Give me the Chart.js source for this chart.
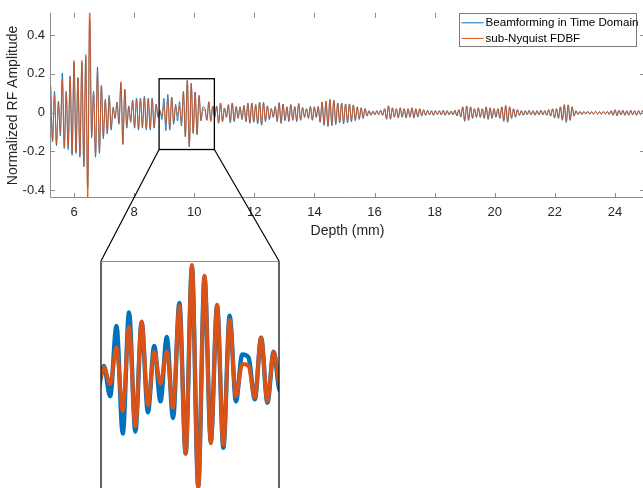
<!DOCTYPE html>
<html lang="en">
<head>
  <meta charset="UTF-8">
  <title>RF line: time-domain beamforming vs sub-Nyquist FDBF</title>
  <script src="https://cdn.jsdelivr.net/npm/chart.js"></script>
  <style>
    html, body { margin: 0; padding: 0; background: #fff; overflow: hidden; }
    #wrap { position: relative; width: 643px; height: 488px; overflow: hidden; }
    #mainChart { position: absolute; left: 0; top: 0; }
    #insetChart { position: absolute; left: 100px; top: 260px; }
  </style>
</head>
<body>
<div id="wrap">
  <canvas id="mainChart" width="650" height="488"></canvas>
  <canvas id="insetChart" width="180" height="236"></canvas>
</div>
<script>
  // sample grid of the RF line (mm)
  const depthStart = 5.22;
  const depthStep = 0.065;

  const seriesLabels = ['Beamforming in Time Domain', 'sub-Nyquist FDBF'];
  const xTicks = [6, 8, 10, 12, 14, 16, 18, 20, 22, 24];
  const yTicks = [-0.4, -0.2, 0, 0.2, 0.4];
  const depthRange = [5.2, 25];
  const ampRange = [-0.44, 0.515];
  // region that is blown up in the inset
  const zoomDepth = [8.83, 10.67];
  const zoomAmp = [-0.19, 0.175];

  // sub-Nyquist FDBF (orange)
  const fdbfNear = [
    0.14, -0.14, 0.09, -0.16, 0.05, -0.10, 0.17, -0.18, 0.10, -0.17,
    0.18, -0.21, 0.27, -0.20, 0.18, -0.22, 0.27, -0.27, 0.30, -0.47,
    0.58, -0.12, 0.10, -0.22, 0.21, -0.20, 0.14, -0.12, 0.06, -0.10,
    0.08, -0.08, 0.02, -0.02, 0.05, -0.05, 0.16, -0.165, 0.12, -0.07,
    0.03, -0.04, 0.06, -0.07, 0.07, -0.08, 0.07, -0.07, 0.08, -0.08,
    0.07, -0.08, 0.07, -0.07, 0.04, -0.02
  ];
  const fdbfZoom = [
    0.010, -0.016, 0.041, -0.058, 0.073, -0.082, 0.081, -0.049, 0.034, -0.016,
    0.034, -0.053, 0.105, -0.124, 0.169, -0.177, 0.152, -0.108, 0.107, -0.111,
    0.084, -0.035, 0.015, 0.012, -0.037, 0.056, -0.043, 0.034, -0.016
  ];
  const fdbfMid = [
    0.03, -0.05, 0.05, -0.04, 0.02, -0.02, 0.04, -0.045, 0.05, -0.04,
    0.03, -0.025, 0.03, -0.03, 0.035, -0.04, 0.045, -0.05, 0.05, -0.045,
    0.04, -0.05, 0.055, -0.06, 0.05, -0.04, 0.035, -0.03, 0.02, -0.02,
    0.03, -0.04, 0.05, -0.05, 0.045, -0.035, 0.03, -0.04, 0.04, -0.035,
    0.03, -0.04, 0.045, -0.035, 0.025, -0.02, 0.02, -0.025, 0.03, -0.035,
    0.03, -0.02, 0.03, -0.045, 0.055, -0.06, 0.06, -0.068, 0.07, -0.06,
    0.065, -0.055, 0.05, -0.045, 0.05, -0.05, 0.045, -0.045, 0.045, -0.04,
    0.04, -0.035, 0.03, -0.03, 0.025, -0.025, 0.02, -0.015, 0.01, -0.012,
    0.008, -0.01, 0.01, -0.008, 0.012, -0.012, 0.02, -0.03, 0.035, -0.03,
    0.025, -0.02, 0.02, -0.025, 0.025, -0.02, 0.02, -0.025, 0.02, -0.02,
    0.025, -0.025, 0.02, -0.02, 0.02, -0.015, 0.015, -0.012, 0.012, -0.01,
    0.01, -0.012, 0.01, -0.008, 0.01, -0.01, 0.012, -0.012, 0.01, -0.01,
    0.008, -0.01, 0.012, -0.015, 0.015, -0.02
  ];
  const fdbfFar = [
    0.03, -0.04, 0.035, -0.035, 0.03, -0.025, 0.02, -0.02, 0.025, -0.02,
    0.02, -0.025, 0.03, -0.03, 0.025, -0.025, 0.02, -0.02, 0.02, -0.025,
    0.03, -0.04, 0.037, -0.045, 0.03, -0.025, 0.02, -0.02, 0.015, -0.012,
    0.01, -0.012, 0.01, -0.01, 0.012, -0.01, 0.01, -0.012, 0.01, -0.01,
    0.012, -0.01, 0.01, -0.012, 0.015, -0.015, 0.02, -0.025, 0.02, -0.025,
    0.03, -0.035, 0.042, -0.045, 0.04, -0.035, 0.03, -0.015, 0.01, -0.008,
    0.006, -0.008, 0.006, -0.005, 0.006, -0.006, 0.005, -0.006, 0.007, -0.006,
    0.005, -0.006, 0.006, -0.005, 0.006, -0.008, 0.01, -0.012, 0.015, -0.014,
    0.012, -0.01, 0.012, -0.012, 0.01, -0.012, 0.012, -0.01, 0.01, -0.012,
    0.01, -0.008, 0.01, -0.01
  ];

  // beamforming in time domain (blue)
  const timeNear = [
    0.14, -0.15, 0.11, -0.17, 0.06, -0.12, 0.205, -0.185, 0.11, -0.19,
    0.19, -0.22, 0.26, -0.21, 0.18, -0.23, 0.26, -0.28, 0.29, -0.385,
    0.48, -0.13, 0.11, -0.23, 0.235, -0.21, 0.14, -0.135, 0.07, -0.11,
    0.09, -0.09, 0.03, -0.03, 0.055, -0.06, 0.15, -0.16, 0.12, -0.08,
    0.035, -0.05, 0.065, -0.08, 0.075, -0.09, 0.075, -0.08, 0.085, -0.09,
    0.075, -0.09, 0.075, -0.08, 0.045, -0.025
  ];
  const timeZoom = [
    0.012, -0.035, 0.074, -0.093, 0.095, -0.09, 0.08, -0.06, 0.043, -0.043,
    0.057, -0.069, 0.11, -0.124, 0.165, -0.175, 0.15, -0.105, 0.105, -0.115,
    0.09, -0.043, 0.03, 0.025, -0.04, 0.056, -0.045, 0.034, -0.027
  ];
  const timeMid = [
    0.035, -0.055, 0.05, -0.048, 0.025, -0.025, 0.042, -0.052, 0.05, -0.047,
    0.032, -0.03, 0.03, -0.036, 0.038, -0.047, 0.05, -0.055, 0.05, -0.05,
    0.042, -0.057, 0.055, -0.065, 0.053, -0.047, 0.035, -0.036, 0.022, -0.025,
    0.032, -0.046, 0.052, -0.056, 0.045, -0.042, 0.03, -0.046, 0.042, -0.04,
    0.032, -0.047, 0.048, -0.04, 0.027, -0.025, 0.02, -0.03, 0.032, -0.04,
    0.03, -0.025, 0.032, -0.05, 0.055, -0.066, 0.058, -0.072, 0.066, -0.068,
    0.062, -0.062, 0.05, -0.053, 0.05, -0.058, 0.045, -0.053, 0.045, -0.047,
    0.04, -0.042, 0.03, -0.035, 0.025, -0.03, 0.02, -0.018, 0.01, -0.014,
    0.008, -0.012, 0.01, -0.01, 0.012, -0.014, 0.02, -0.034, 0.035, -0.034,
    0.025, -0.024, 0.02, -0.028, 0.025, -0.024, 0.02, -0.028, 0.02, -0.024,
    0.025, -0.028, 0.02, -0.023, 0.02, -0.018, 0.015, -0.014, 0.012, -0.012,
    0.01, -0.014, 0.01, -0.01, 0.01, -0.012, 0.012, -0.014, 0.01, -0.012,
    0.008, -0.012, 0.012, -0.017, 0.015, -0.023
  ];
  const timeFar = [
    0.03, -0.045, 0.035, -0.04, 0.03, -0.03, 0.02, -0.025, 0.025, -0.026,
    0.02, -0.03, 0.03, -0.035, 0.025, -0.03, 0.02, -0.024, 0.02, -0.03,
    0.03, -0.045, 0.036, -0.05, 0.03, -0.03, 0.02, -0.024, 0.015, -0.015,
    0.01, -0.014, 0.01, -0.012, 0.012, -0.012, 0.01, -0.014, 0.01, -0.012,
    0.012, -0.012, 0.01, -0.014, 0.015, -0.018, 0.02, -0.028, 0.02, -0.03,
    0.03, -0.04, 0.04, -0.05, 0.04, -0.04, 0.03, -0.018, 0.01, -0.01,
    0.006, -0.01, 0.006, -0.007, 0.006, -0.008, 0.005, -0.008, 0.007, -0.008,
    0.005, -0.008, 0.006, -0.007, 0.006, -0.01, 0.01, -0.014, 0.015, -0.016,
    0.012, -0.012, 0.012, -0.014, 0.01, -0.014, 0.012, -0.012, 0.01, -0.014,
    0.01, -0.01, 0.01, -0.012
  ];

  const timeDomain = [].concat(timeNear, timeZoom, timeMid, timeFar);
  const fdbf = [].concat(fdbfNear, fdbfZoom, fdbfMid, fdbfFar);
  const toPoints = vals => vals.map((y, i) => ({ x: depthStart + i * depthStep, y: y }));

  const BLUE = '#0072BD';
  const ORANGE = '#D95319';
  const FONT = '"Liberation Sans", Arial, Helvetica, sans-serif';
  Chart.defaults.font.family = FONT;
  Chart.defaults.color = '#262626';

  function makeDatasets(width) {
    return [
      { label: seriesLabels[0], data: toPoints(timeDomain), borderColor: BLUE, backgroundColor: BLUE,
        borderWidth: width[0], order: 1, clip: 0 },
      { label: seriesLabels[1], data: toPoints(fdbf), borderColor: ORANGE, backgroundColor: ORANGE,
        borderWidth: width[1], order: 0, clip: 0 }
    ];
  }

  // frame of the inset: black sides, grey top
  const insetFrame = {
    id: 'insetFrame',
    afterDraw(chart) {
      const { ctx, chartArea: a } = chart;
      ctx.save();
      ctx.lineWidth = 1.3;
      ctx.strokeStyle = '#111';
      ctx.beginPath();
      ctx.moveTo(a.left, a.bottom); ctx.lineTo(a.left, a.top);
      ctx.moveTo(a.right, a.top); ctx.lineTo(a.right, a.bottom);
      ctx.stroke();
      ctx.strokeStyle = '#8a8a8a';
      ctx.lineWidth = 1;
      ctx.beginPath();
      ctx.moveTo(a.left, a.top + 0.5); ctx.lineTo(a.right, a.top + 0.5);
      ctx.stroke();
      ctx.restore();
    }
  };

  const insetCanvas = document.getElementById('insetChart');
  const insetChart = new Chart(insetCanvas, {
    type: 'line',
    data: { datasets: makeDatasets([4.4, 3.9]) },
    options: {
      responsive: false,
      animation: false,
      layout: { padding: { left: 1, right: 1, top: 1, bottom: 0 } },
      elements: { point: { radius: 0 }, line: { cubicInterpolationMode: 'monotone' } },
      scales: {
        x: { type: 'linear', display: false, min: zoomDepth[0], max: zoomDepth[1] },
        y: { display: false, min: zoomAmp[0], max: zoomAmp[1] }
      },
      plugins: { legend: { display: false }, tooltip: { enabled: false } }
    },
    plugins: [insetFrame]
  });

  // axes box, inward ticks, zoom rectangle, connectors and legend
  const mainFrame = {
    id: 'mainFrame',
    afterDraw(chart) {
      const { ctx, chartArea: a, scales: { x, y } } = chart;
      ctx.save();
      ctx.strokeStyle = '#8c8c8c';
      ctx.lineWidth = 1;
      ctx.beginPath();
      ctx.moveTo(a.left + 0.5, a.top); ctx.lineTo(a.left + 0.5, a.bottom - 0.5);
      ctx.lineTo(a.right - 0.5, a.bottom - 0.5); ctx.lineTo(a.right - 0.5, a.top);
      const len = 5;
      x.ticks.forEach(t => {
        const px = Math.round(x.getPixelForValue(t.value)) + 0.5;
        ctx.moveTo(px, a.bottom); ctx.lineTo(px, a.bottom - len);
        ctx.moveTo(px, a.top); ctx.lineTo(px, a.top + len);
      });
      y.ticks.forEach(t => {
        const py = Math.round(y.getPixelForValue(t.value)) + 0.5;
        ctx.moveTo(a.left, py); ctx.lineTo(a.left + len, py);
        ctx.moveTo(a.right, py); ctx.lineTo(a.right - len, py);
      });
      ctx.stroke();

      // zoom rectangle
      const bx0 = x.getPixelForValue(zoomDepth[0]);
      const bx1 = x.getPixelForValue(zoomDepth[1]);
      const byTop = y.getPixelForValue(zoomAmp[1]);
      const byBot = y.getPixelForValue(zoomAmp[0]);
      ctx.strokeStyle = '#000';
      ctx.lineWidth = 1.3;
      ctx.strokeRect(bx0, byTop, bx1 - bx0, byBot - byTop);

      // connectors to the inset's top corners
      const ia = insetChart.chartArea;
      const ox = insetCanvas.offsetLeft, oy = insetCanvas.offsetTop;
      ctx.lineWidth = 1.2;
      ctx.beginPath();
      ctx.moveTo(bx0, byBot); ctx.lineTo(ox + ia.left, oy + ia.top);
      ctx.moveTo(bx1, byBot); ctx.lineTo(ox + ia.right, oy + ia.top);
      ctx.stroke();

      // legend box, top right inside the axes
      const lg = { left: 459.5, top: 13.5, width: 177, height: 33 };
      ctx.fillStyle = '#fff';
      ctx.fillRect(lg.left, lg.top, lg.width, lg.height);
      ctx.strokeStyle = '#7a7a7a';
      ctx.lineWidth = 1;
      ctx.strokeRect(lg.left, lg.top, lg.width, lg.height);
      ctx.font = '11.6px ' + FONT;
      ctx.textBaseline = 'middle';
      ctx.textAlign = 'left';
      chart.data.datasets.forEach((ds, i) => {
        const cy = lg.top + 9.3 + i * 15.6;
        ctx.strokeStyle = ds.borderColor;
        ctx.lineWidth = 1;
        ctx.beginPath();
        ctx.moveTo(lg.left + 2, cy); ctx.lineTo(lg.left + 24, cy);
        ctx.stroke();
        ctx.fillStyle = '#000';
        ctx.fillText(ds.label, lg.left + 26, cy);
      });
      ctx.restore();
    }
  };

  new Chart(document.getElementById('mainChart'), {
    type: 'line',
    data: { datasets: makeDatasets([0.9, 0.9]) },
    options: {
      responsive: false,
      animation: false,
      layout: { padding: { left: 0, right: 5, top: 7, bottom: 243 } },
      elements: { point: { radius: 0 }, line: { cubicInterpolationMode: 'monotone' } },
      scales: {
        x: {
          type: 'linear',
          min: depthRange[0],
          max: depthRange[1],
          grid: { display: false, drawTicks: false },
          border: { display: false },
          afterBuildTicks: s => { s.ticks = xTicks.map(value => ({ value })); },
          afterFit: s => { s.height = 47; },
          ticks: { padding: 7, maxRotation: 0, autoSkip: false, font: { size: 13 }, color: '#262626',
                   callback: v => String(v) },
          title: { display: true, text: 'Depth (mm)', font: { size: 14 }, color: '#262626',
                   padding: { top: 0, bottom: 5 } }
        },
        y: {
          min: ampRange[0],
          max: ampRange[1],
          grid: { display: false, drawTicks: false },
          border: { display: false },
          afterBuildTicks: s => { s.ticks = yTicks.map(value => ({ value })); },
          afterFit: s => { s.width = 50; },
          ticks: { padding: 5, font: { size: 13 }, color: '#262626',
                   callback: v => String(+Number(v).toFixed(1)) },
          title: { display: true, text: 'Normalized RF Amplitude', font: { size: 14 }, color: '#262626',
                   padding: { top: 5, bottom: 0 } }
        }
      },
      plugins: { legend: { display: false }, tooltip: { enabled: false } }
    },
    plugins: [mainFrame]
  });
</script>
</body>
</html>
